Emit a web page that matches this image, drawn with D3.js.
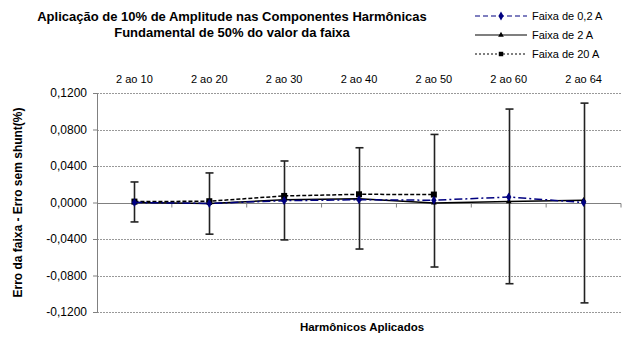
<!DOCTYPE html>
<html>
<head>
<meta charset="utf-8">
<script src="https://cdn.jsdelivr.net/npm/d3@7"></script>
<style>
  body { margin: 0; background: #fff; }
  svg { font-family: "Liberation Sans", Arial, sans-serif; }
</style>
</head>
<body>
<div id="chart"></div>
<script>
// data
var categories = ['2 ao 10', '2 ao 20', '2 ao 30', '2 ao 40', '2 ao 50', '2 ao 60', '2 ao 64'];
var faixa02 = [0.0000, -0.0010, 0.0020, 0.0030, 0.0025, 0.0060, 0.0000];
var faixa2 = [0.0000, -0.0010, 0.0030, 0.0040, -0.0005, 0.0010, 0.0025];
var faixa20 = [0.0010, 0.0014, 0.0072, 0.0090, 0.0087, null, null];
var errHigh = [0.0225, 0.0324, 0.0455, 0.0600, 0.0746, 0.1024, 0.1089];
var errLow = [-0.0213, -0.0347, -0.0410, -0.0510, -0.0707, -0.0890, -0.1100];
var yTicks = [0.12, 0.08, 0.04, 0, -0.04, -0.08, -0.12];

var width = 640, height = 338;
var margin = { left: 97, right: 19, top: 93, bottom: 26 };

var svg = d3.select('#chart').append('svg')
  .attr('width', width)
  .attr('height', height);

var x = d3.scaleBand()
  .domain(categories)
  .range([margin.left, width - margin.right]);

var y = d3.scaleLinear()
  .domain([-0.12, 0.12])
  .range([height - margin.bottom, margin.top]);

var fmt = function (v) { return d3.format('.4f')(v).replace('.', ',').replace('−', '-'); };

// gridlines
svg.append('g')
  .selectAll('line')
  .data(yTicks.filter(function (d) { return d !== 0; }))
  .enter()
  .append('line')
  .attr('x1', margin.left)
  .attr('x2', width - margin.right)
  .attr('y1', function (d) { return Math.round(y(d)) + 0.5; })
  .attr('y2', function (d) { return Math.round(y(d)) + 0.5; })
  .attr('stroke', '#999')
  .attr('stroke-dasharray', '2,1');

// y axis
var yAxis = svg.append('g')
  .attr('transform', 'translate(' + margin.left + ',0)')
  .call(d3.axisLeft(y).tickValues(yTicks).tickSize(4).tickFormat(fmt));
yAxis.select('.domain').attr('stroke', '#808080');
yAxis.selectAll('.tick line').attr('stroke', '#808080');
yAxis.selectAll('.tick text')
  .attr('font-size', 12)
  .attr('fill', '#000')
  .attr('x', -10);

// zero line with category ticks
var zeroY = Math.round(y(0)) + 0.5;
svg.append('line')
  .attr('x1', margin.left)
  .attr('x2', width - margin.right)
  .attr('y1', zeroY)
  .attr('y2', zeroY)
  .attr('stroke', '#808080')
  .attr('stroke-width', 1.2);
svg.append('g')
  .selectAll('line')
  .data(categories)
  .enter()
  .append('line')
  .attr('x1', function (d) { return x(d) + x.bandwidth(); })
  .attr('x2', function (d) { return x(d) + x.bandwidth(); })
  .attr('y1', zeroY)
  .attr('y2', zeroY + 4)
  .attr('stroke', '#808080');

// category labels on top
svg.append('g')
  .selectAll('text')
  .data(categories)
  .enter()
  .append('text')
  .attr('x', function (d) { return x(d) + x.bandwidth() / 2; })
  .attr('y', 83)
  .attr('text-anchor', 'middle')
  .attr('font-size', 11)
  .text(function (d) { return d; });

var cx = function (i) { return x(categories[i]) + x.bandwidth() / 2; };

// error bars
var eb = svg.append('g');
categories.forEach(function (c, i) {
  var xx = Math.round(cx(i)) + 0.5;
  eb.append('line')
    .attr('x1', xx).attr('x2', xx)
    .attr('y1', y(errHigh[i])).attr('y2', y(errLow[i]))
    .attr('stroke', '#222').attr('stroke-width', 1.6);
  [errHigh[i], errLow[i]].forEach(function (v) {
    eb.append('line')
      .attr('x1', xx - 4).attr('x2', xx + 4)
      .attr('y1', y(v)).attr('y2', y(v))
      .attr('stroke', '#222').attr('stroke-width', 1.6);
  });
});

var line = d3.line()
  .defined(function (d) { return d != null; })
  .x(function (d, i) { return cx(i); })
  .y(function (d) { return y(d); });

// Faixa de 20 A
svg.append('path')
  .datum(faixa20)
  .attr('d', line)
  .attr('fill', 'none')
  .attr('stroke', '#000')
  .attr('stroke-width', 1.5)
  .attr('stroke-dasharray', '4,2');
svg.append('g').selectAll('rect')
  .data(faixa20.map(function (v, i) { return { v: v, i: i }; }).filter(function (d) { return d.v != null; }))
  .enter().append('rect')
  .attr('x', function (d) { return cx(d.i) - 3; })
  .attr('y', function (d) { return y(d.v) - 3; })
  .attr('width', 6).attr('height', 6)
  .attr('fill', '#000');

// Faixa de 2 A
svg.append('path')
  .datum(faixa2)
  .attr('d', line)
  .attr('fill', 'none')
  .attr('stroke', '#000')
  .attr('stroke-width', 1.5);
svg.append('g').selectAll('path')
  .data(faixa2)
  .enter().append('path')
  .attr('d', d3.symbol().type(d3.symbolTriangle).size(14))
  .attr('transform', function (d, i) { return 'translate(' + cx(i) + ',' + y(d) + ')'; })
  .attr('fill', '#000');

// Faixa de 0,2 A
svg.append('path')
  .datum(faixa02)
  .attr('d', line)
  .attr('fill', 'none')
  .attr('stroke', '#000080')
  .attr('stroke-width', 1.5)
  .attr('stroke-dasharray', '8,3,2,3');
svg.append('g').selectAll('path')
  .data(faixa02)
  .enter().append('path')
  .attr('d', d3.symbol().type(d3.symbolDiamond).size(24))
  .attr('transform', function (d, i) { return 'translate(' + cx(i) + ',' + y(d) + ')'; })
  .attr('fill', '#000080');

// title
var title = svg.append('text')
  .attr('text-anchor', 'middle')
  .attr('font-size', 13)
  .attr('font-weight', 'bold');
title.append('tspan').attr('x', 232).attr('y', 21).text('Aplicação de 10% de Amplitude nas Componentes Harmônicas');
title.append('tspan').attr('x', 232).attr('y', 37).text('Fundamental de 50% do valor da faixa');

// axis titles
svg.append('text')
  .attr('x', 362)
  .attr('y', 331)
  .attr('text-anchor', 'middle')
  .attr('font-size', 11.5)
  .attr('font-weight', 'bold')
  .text('Harmônicos Aplicados');

svg.append('text')
  .attr('transform', 'translate(22,' + y(0) + ') rotate(-90)')
  .attr('text-anchor', 'middle')
  .attr('font-size', 12)
  .attr('font-weight', 'bold')
  .text('Erro da faixa - Erro sem shunt(%)');

// legend
var legend = [
  { name: 'Faixa de 0,2 A', color: '#000080', dash: '5,3', marker: d3.symbolDiamond, size: 24 },
  { name: 'Faixa de 2 A', color: '#000', dash: null, marker: d3.symbolTriangle, size: 14 },
  { name: 'Faixa de 20 A', color: '#000', dash: '2,2', marker: d3.symbolSquare, size: 20 }
];
var lg = svg.append('g').selectAll('g')
  .data(legend)
  .enter().append('g')
  .attr('transform', function (d, i) { return 'translate(475,' + (16 + i * 19) + ')'; });
lg.append('line')
  .attr('x1', 0).attr('x2', 52)
  .attr('stroke', function (d) { return d.color; })
  .attr('stroke-width', 1.2)
  .attr('stroke-dasharray', function (d) { return d.dash; });
lg.append('path')
  .attr('d', function (d) { return d3.symbol().type(d.marker).size(d.size)(); })
  .attr('transform', 'translate(26,0)')
  .attr('fill', function (d) { return d.color; });
lg.append('text')
  .attr('x', 57)
  .attr('y', 4)
  .attr('font-size', 11)
  .text(function (d) { return d.name; });
</script>
</body>
</html>
